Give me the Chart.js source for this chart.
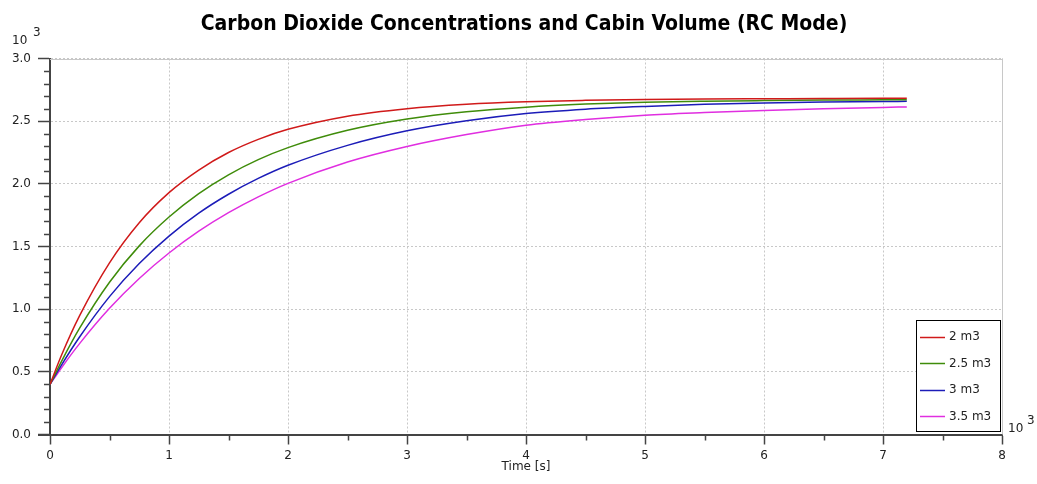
<!DOCTYPE html>
<html><head><meta charset="utf-8">
<script src="https://cdn.jsdelivr.net/npm/chart.js@4/dist/chart.umd.min.js"></script>
<style>html,body{margin:0;padding:0;background:#fff;}#wrap{width:1037px;height:484px;}</style>
</head><body><div id="wrap"><canvas id="c" width="1037" height="484"></canvas></div>
<script>
const TITLE = 'Carbon Dioxide Concentrations and Cabin Volume (RC Mode)';
const X_TITLE = 'Time [s]';
const EXP_LABEL = ['10', '3'];
// time in units of 10^3 s
const times = [0, 0.1, 0.25, 0.5, 0.75, 1, 1.25, 1.5, 1.75, 2, 2.5, 3, 3.5, 4, 4.5, 5, 5.5, 6, 6.5, 7, 7.2];
const seriesLabels = ['2 m3', '2.5 m3', '3 m3', '3.5 m3'];
const seriesColors = ['#d01a1a', '#3f8c0a', '#1c1cb8', '#e02ee0'];
// CO2 concentration in units of 10^3
const co2_2m3   = [0.40, 0.64, 0.95, 1.37, 1.69, 1.93, 2.11, 2.25, 2.355, 2.435, 2.54, 2.60, 2.635, 2.655, 2.666, 2.673, 2.677, 2.679, 2.681, 2.682, 2.682];
const co2_2_5m3 = [0.40, 0.59, 0.85, 1.215, 1.505, 1.735, 1.922, 2.072, 2.193, 2.289, 2.427, 2.517, 2.575, 2.612, 2.636, 2.651, 2.659, 2.664, 2.668, 2.670, 2.671];
const co2_3m3   = [0.40, 0.56, 0.78, 1.10, 1.364, 1.583, 1.766, 1.917, 2.043, 2.148, 2.307, 2.423, 2.503, 2.561, 2.596, 2.618, 2.634, 2.645, 2.652, 2.657, 2.658];
const co2_3_5m3 = [0.40, 0.537, 0.727, 1.007, 1.245, 1.448, 1.622, 1.770, 1.896, 2.004, 2.174, 2.298, 2.393, 2.468, 2.514, 2.548, 2.569, 2.586, 2.599, 2.610, 2.614];
const xTickValues = [0, 1, 2, 3, 4, 5, 6, 7, 8];
const yTickValues = [0.0, 0.5, 1.0, 1.5, 2.0, 2.5, 3.0];

const allSeries = [co2_2m3, co2_2_5m3, co2_3m3, co2_3_5m3];
const FONT = "'DejaVu Sans', Verdana, sans-serif";
const AXIS = '#444444';
const GRID = '#c8c8c8';

const datasets = allSeries.map((s, i) => ({
  label: seriesLabels[i],
  data: times.map((t, j) => ({x: t, y: s[j]})),
  borderColor: seriesColors[i],
  backgroundColor: seriesColors[i],
  borderWidth: 1.5,
  pointRadius: 0,
  fill: false,
  cubicInterpolationMode: 'monotone'
}));

const deco = {
  id: 'deco',
  afterDraw(chart) {
    const ctx = chart.ctx;
    const xs = chart.scales.x, ys = chart.scales.y;
    const a = chart.chartArea;
    ctx.save();
    // solid top & right border
    ctx.strokeStyle = GRID; ctx.lineWidth = 1; ctx.setLineDash([]);
    ctx.beginPath();
    ctx.moveTo(a.left, Math.round(a.top) + 0.5); ctx.lineTo(a.right, Math.round(a.top) + 0.5);
    ctx.moveTo(Math.round(a.right) + 0.5, a.top); ctx.lineTo(Math.round(a.right) + 0.5, a.bottom);
    ctx.stroke();
    // axis extension to the left
    ctx.strokeStyle = AXIS; ctx.lineWidth = 2;
    ctx.beginPath();
    ctx.moveTo(a.left - 12, Math.round(a.bottom)); ctx.lineTo(a.left, Math.round(a.bottom));
    ctx.stroke();
    // minor ticks
    ctx.lineWidth = 1.5;
    ctx.beginPath();
    for (let v = 0; v <= 30; v++) {
      if (v % 5 === 0) continue;
      const y = Math.round(ys.getPixelForValue(v / 10)) + 0.5;
      ctx.moveTo(a.left - 6, y); ctx.lineTo(a.left, y);
    }
    for (let v = 0.5; v < 8; v += 1) {
      const x = Math.round(xs.getPixelForValue(v)) + 0.5;
      ctx.moveTo(x, a.bottom); ctx.lineTo(x, a.bottom + 6);
    }
    ctx.stroke();
    // title
    ctx.fillStyle = '#000';
    ctx.font = "bold 21px 'DejaVu Sans Condensed', 'DejaVu Sans', sans-serif";
    ctx.textAlign = 'center'; ctx.textBaseline = 'alphabetic';
    ctx.fillText(TITLE, 524, 30);
    // exponent labels
    ctx.fillStyle = '#222';
    ctx.font = '12px ' + FONT;
    ctx.textAlign = 'left';
    ctx.fillText(EXP_LABEL[0], 12, 44);
    ctx.fillText(EXP_LABEL[1], 33, 35.5);
    ctx.fillText(EXP_LABEL[0], 1008, 432);
    ctx.fillText(EXP_LABEL[1], 1027, 423.5);
    // x title
    ctx.textAlign = 'center'; ctx.textBaseline = 'middle';
    ctx.fillText(X_TITLE, (a.left + a.right) / 2, 467);
    // legend
    const lx = 916.5, ly = 320.5, lw = 84, lh = 111;
    ctx.fillStyle = '#fff';
    ctx.fillRect(lx, ly, lw, lh);
    ctx.strokeStyle = '#000'; ctx.lineWidth = 1;
    ctx.strokeRect(lx, ly, lw, lh);
    ctx.textAlign = 'left'; ctx.textBaseline = 'middle';
    chart.data.datasets.forEach((ds, i) => {
      const y = 336.5 + i * 26.5;
      ctx.strokeStyle = ds.borderColor; ctx.lineWidth = 1.5;
      ctx.beginPath(); ctx.moveTo(920, Math.round(y) + 0.5); ctx.lineTo(945, Math.round(y) + 0.5); ctx.stroke();
      ctx.fillStyle = '#222';
      ctx.fillText(ds.label, 949, y + 0.5);
    });
    ctx.restore();
  }
};

new Chart(document.getElementById('c'), {
  type: 'line',
  data: {datasets},
  plugins: [deco],
  options: {
    responsive: false,
    animation: false,
    events: [],
    layout: {padding: {top: 58.5, right: 35, bottom: 0, left: 0}},
    plugins: {legend: {display: false}, title: {display: false}, tooltip: {enabled: false}},
    font: {family: FONT, size: 12},
    scales: {
      x: {
        type: 'linear', min: 0, max: 8,
        afterFit: s => { s.height = 49.5; },
        afterBuildTicks: s => { s.ticks = xTickValues.map(v => ({value: v})); },
        ticks: {color: '#222', font: {family: FONT, size: 12}, padding: 4, maxRotation: 0, callback: v => String(v)},
        grid: {color: GRID, lineWidth: 1, tickLength: 10, tickColor: AXIS, tickWidth: 1.5},
        border: {display: true, color: AXIS, width: 2, dash: [2, 2]}
      },
      y: {
        type: 'linear', min: 0, max: 3,
        afterFit: s => { s.width = 50; },
        afterBuildTicks: s => { s.ticks = yTickValues.map(v => ({value: v})); },
        ticks: {color: '#222', font: {family: FONT, size: 12}, padding: 7, callback: v => Number(v).toFixed(1)},
        grid: {color: GRID, lineWidth: 1, tickLength: 12, tickColor: AXIS, tickWidth: 1.5},
        border: {display: true, color: AXIS, width: 2, dash: [2, 2]}
      }
    }
  }
});
</script></body></html>
